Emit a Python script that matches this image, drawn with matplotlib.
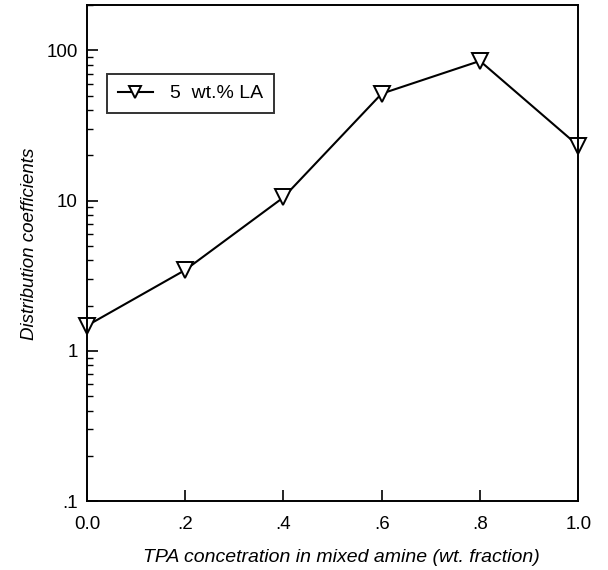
import matplotlib
matplotlib.use('Agg')
from matplotlib import pyplot as plt
from matplotlib.ticker import LogLocator, FixedLocator, FuncFormatter, NullFormatter

# TPA weight fraction in the mixed amine
tpa_frac = [0.0, 0.2, 0.4, 0.6, 0.8, 1.0]
# distribution coefficients, 5 wt.% LA
dist_coef = [1.47, 3.45, 10.5, 51.5, 85.0, 23.2]

x_ticks = [0.0, 0.2, 0.4, 0.6, 0.8, 1.0]
x_tick_labels = ['0.0', '.2', '.4', '.6', '.8', '1.0']
y_ticks = [0.1, 1, 10, 100]
y_tick_labels = ['.1', '1', '10', '100']

plt.rcParams['font.family'] = ['Liberation Sans', 'DejaVu Sans']

fig = plt.figure(figsize=(6.08, 5.70), dpi=100)
ax = fig.add_axes([0.143, 0.121, 0.808, 0.870])

ax.plot(tpa_frac, dist_coef, color='black', lw=1.5, marker='v',
        markersize=11, markerfacecolor='white', markeredgecolor='black',
        markeredgewidth=1.4, label='5  wt.% LA', clip_on=False)

ax.set_yscale('log')
ax.set_xlim(0, 1.0)
ax.set_ylim(0.1, 200)

ax.xaxis.set_major_locator(FixedLocator(x_ticks))
ax.set_xticklabels(x_tick_labels)
ax.yaxis.set_major_locator(FixedLocator(y_ticks))
ax.yaxis.set_major_formatter(FuncFormatter(lambda v, p: y_tick_labels[y_ticks.index(v)] if v in y_ticks else ''))
ax.yaxis.set_minor_locator(LogLocator(base=10, subs=range(2, 10)))
ax.yaxis.set_minor_formatter(NullFormatter())

ax.tick_params(axis='both', which='major', direction='in', length=8, width=1.2,
               labelsize=13.5, top=False, right=False)
ax.tick_params(axis='x', which='major', pad=11)
ax.tick_params(axis='y', which='major', pad=6.5)
ax.tick_params(axis='y', which='minor', direction='in', length=4, width=1.0, right=False)
for s in ax.spines.values():
    s.set_linewidth(1.4)

ax.set_xlabel('TPA concetration in mixed amine (wt. fraction)', fontsize=14, style='italic')
ax.set_ylabel('Distribution coefficients', fontsize=13.5, style='italic')
ax.xaxis.set_label_coords(0.517, -0.097)
ax.yaxis.set_label_coords(-0.100, 0.518)

leg = ax.legend(loc='upper left', bbox_to_anchor=(0.041, 0.861), borderaxespad=0,
                fontsize=14, frameon=True, fancybox=False, edgecolor='black',
                handlelength=1.8, borderpad=0.55, handletextpad=0.9, markerscale=0.85)
leg.get_frame().set_linewidth(1.4)

plt.savefig('out.png', dpi=100)
